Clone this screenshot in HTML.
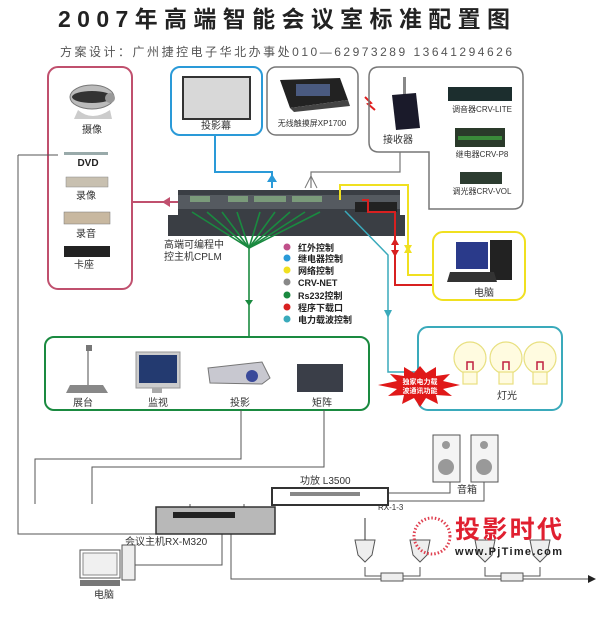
<!DOCTYPE html>
<html><head><meta charset="utf-8"><style>
html,body{margin:0;padding:0;background:#fff;}
svg{display:block}
text{font-family:"Liberation Sans","Noto Sans CJK SC",sans-serif;}
</style></head><body>
<svg width="600" height="622" viewBox="0 0 600 622" xmlns="http://www.w3.org/2000/svg">
<rect width="600" height="622" fill="#fff"/>
<!-- title -->
<text x="58" y="27" font-size="23" font-weight="bold" fill="#222" textLength="452">2007年高端智能会议室标准配置图</text>
<text x="60" y="56" font-size="12" fill="#555" textLength="452">方案设计：广州捷控电子华北办事处010—62973289  13641294626</text>

<!-- pink box -->
<rect x="48" y="67" width="84" height="222" rx="10" fill="none" stroke="#c0506e" stroke-width="2"/>
<ellipse cx="92" cy="97" rx="22" ry="12" fill="#bbb" stroke="#777"/>
<ellipse cx="92" cy="97" rx="20" ry="6" fill="#333"/>
<circle cx="110" cy="98" r="5" fill="#999"/>
<path d="M78 110 Q92 122 110 110 L112 119 L74 119Z" fill="#ccc"/>
<text x="92" y="133" font-size="10" text-anchor="middle" fill="#333">摄像</text>
<rect x="64" y="152" width="44" height="3" fill="#9aa"/>
<text x="88" y="166" font-size="10" font-weight="bold" text-anchor="middle" fill="#222">DVD</text>
<rect x="66" y="177" width="42" height="10" fill="#c8c0b0" stroke="#888" stroke-width=".5"/>
<text x="86" y="199" font-size="10" text-anchor="middle" fill="#333">录像</text>
<rect x="64" y="212" width="46" height="12" fill="#c8b8a0" stroke="#777" stroke-width=".5"/>
<text x="86" y="237" font-size="10" text-anchor="middle" fill="#333">录音</text>
<rect x="64" y="246" width="46" height="11" fill="#222"/>
<text x="84" y="268" font-size="10" text-anchor="middle" fill="#333">卡座</text>

<!-- projector screen box -->
<rect x="171" y="67" width="91" height="68" rx="9" fill="none" stroke="#2a9ad8" stroke-width="2"/>
<rect x="183" y="77" width="67" height="42" fill="#d8d8d8" stroke="#333" stroke-width="2"/>
<text x="216" y="129" font-size="10" text-anchor="middle" fill="#333">投影幕</text>
<!-- XP1700 -->
<rect x="267" y="67" width="91" height="68" rx="9" fill="none" stroke="#777" stroke-width="1.5"/>
<path d="M280 80 L340 78 L348 100 L290 108Z" fill="#222"/>
<rect x="296" y="84" width="34" height="12" fill="#4a5a80"/>
<path d="M290 108 L348 100 L350 106 L294 112Z" fill="#444"/>
<text x="312" y="126" font-size="8" text-anchor="middle" fill="#333">无线触摸屏XP1700</text>
<path d="M365 97 L371 103 L368 104 L375 110" stroke="#e02020" stroke-width="2" fill="none"/>
<!-- receiver box -->
<path d="M379 67 L513 67 Q523 67 523 77 L523 199 Q523 209 513 209 L429 209 L429 152 L379 152 Q369 152 369 142 L369 77 Q369 67 379 67Z" fill="none" stroke="#777" stroke-width="1.5"/>
<rect x="403" y="77" width="3" height="20" fill="#888"/>
<path d="M392 95 L416 93 L420 128 L396 130Z" fill="#1a1a2a"/>
<text x="398" y="143" font-size="10" text-anchor="middle" fill="#333">接收器</text>
<rect x="448" y="87" width="64" height="14" fill="#1c2e2e"/>
<text x="482" y="112" font-size="8" text-anchor="middle" fill="#333">调音器CRV-LITE</text>
<rect x="455" y="128" width="50" height="19" fill="#2a3a2a"/>
<rect x="458" y="136" width="44" height="4" fill="#3a8a3a"/>
<text x="482" y="157" font-size="8" text-anchor="middle" fill="#333">继电器CRV-P8</text>
<rect x="460" y="172" width="42" height="12" fill="#2c3c30"/>
<text x="482" y="194" font-size="8" text-anchor="middle" fill="#333">调光器CRV-VOL</text>
<!-- receiver to CPLM -->
<polyline points="400,152 400,172 311,172 311,188" fill="none" stroke="#777" stroke-width="1.2"/>
<polyline points="305,188 311,176 317,188" fill="none" stroke="#777"/>

<!-- CPLM -->
<path d="M178 190 L400 190 L400 215 L405 215 L405 236 L168 236 L168 215 L178 215Z" fill="#3a3e44"/>
<rect x="178" y="195" width="222" height="14" fill="#555a60"/>
<rect x="190" y="196" width="20" height="6" fill="#7a9a7a"/>
<rect x="228" y="196" width="20" height="6" fill="#7a9a7a"/>
<rect x="254" y="196" width="32" height="6" fill="#7a9a7a"/>
<rect x="292" y="196" width="30" height="6" fill="#7a9a7a"/>
<rect x="355" y="202" width="42" height="10" fill="#222"/>
<text x="164" y="248" font-size="10" fill="#333">高端可编程中</text>
<text x="164" y="260" font-size="10" fill="#333">控主机CPLM</text>

<!-- pink arrow -->
<line x1="132" y1="202" x2="178" y2="202" stroke="#c0506e" stroke-width="2"/>
<path d="M162 197 L170 202 L162 207Z" fill="#c0506e" transform="rotate(180 166 202)"/>
<!-- blue -->
<polyline points="215,135 215,172 272,172 272,188" fill="none" stroke="#2a9ad8" stroke-width="2"/>
<path d="M267 182 L272 174 L277 182Z" fill="#2a9ad8"/>
<!-- yellow -->
<polyline points="340,200 340,185 408,185 408,275 433,275" fill="none" stroke="#f0e020" stroke-width="2"/>
<path d="M404 245 L408 252 L412 245Z" fill="#f0e020"/>
<path d="M404 253 L408 246 L412 253Z" fill="#f0e020" transform="translate(0,0)"/>
<!-- red -->
<polyline points="362,200 368,200 368,212 395,212 395,285 433,285" fill="none" stroke="#d82020" stroke-width="2"/>
<path d="M391 245 L395 238 L399 245Z" fill="#d82020"/>
<path d="M391 250 L395 257 L399 250Z" fill="#d82020"/>
<!-- cyan -->
<polyline points="345,211 388,255 388,372 418,372" fill="none" stroke="#3aaabb" stroke-width="1.5"/>
<path d="M384 310 L388 318 L392 310Z" fill="#3aaabb"/>
<!-- computer box -->
<rect x="433" y="232" width="92" height="68" rx="10" fill="none" stroke="#f0e020" stroke-width="2"/>
<rect x="456" y="242" width="32" height="27" fill="#2a3a8a"/>
<rect x="490" y="240" width="22" height="40" fill="#222"/>
<path d="M450 272 L494 272 L497 282 L447 282Z" fill="#333"/>
<text x="484" y="296" font-size="10" text-anchor="middle" fill="#333">电脑</text>

<!-- green fan -->
<g stroke="#1a8a40" stroke-width="1.6" fill="none">
<line x1="192" y1="212" x2="249" y2="248"/><line x1="207" y1="212" x2="249" y2="248"/>
<line x1="222" y1="212" x2="249" y2="248"/><line x1="237" y1="212" x2="249" y2="248"/>
<line x1="260" y1="212" x2="249" y2="248"/><line x1="275" y1="212" x2="249" y2="248"/>
<line x1="290" y1="212" x2="249" y2="248"/><line x1="305" y1="212" x2="249" y2="248"/>
<line x1="320" y1="212" x2="249" y2="248"/>
<line x1="249" y1="248" x2="249" y2="337"/>
</g>
<path d="M245 300 L249 306 L253 300Z" fill="#1a8a40"/>
<!-- legend -->
<g font-size="9" font-weight="bold" fill="#222">
<circle cx="287" cy="247" r="3.5" fill="#c0508a"/><text x="298" y="251">红外控制</text>
<circle cx="287" cy="258" r="3.5" fill="#2a9ad8"/><text x="298" y="262">继电器控制</text>
<circle cx="287" cy="270" r="3.5" fill="#f0e020"/><text x="298" y="274">网络控制</text>
<circle cx="287" cy="282" r="3.5" fill="#888"/><text x="298" y="286">CRV-NET</text>
<circle cx="287" cy="295" r="3.5" fill="#1a8a40"/><text x="298" y="299">Rs232控制</text>
<circle cx="287" cy="307" r="3.5" fill="#d82020"/><text x="298" y="311">程序下载口</text>
<circle cx="287" cy="319" r="3.5" fill="#3aaabb"/><text x="298" y="323">电力载波控制</text>
</g>

<!-- green box -->
<rect x="45" y="337" width="324" height="73" rx="9" fill="none" stroke="#1a8a40" stroke-width="2"/>
<line x1="88" y1="347" x2="88" y2="385" stroke="#888" stroke-width="1.5"/>
<rect x="86" y="345" width="6" height="6" fill="#777"/>
<path d="M70 385 L103 385 L108 393 L66 393Z" fill="#888"/>
<text x="83" y="406" font-size="10" text-anchor="middle" fill="#333">展台</text>
<rect x="136" y="352" width="44" height="36" fill="#ccc" stroke="#999"/>
<rect x="139" y="355" width="38" height="28" fill="#233a70"/>
<rect x="152" y="388" width="10" height="5" fill="#aaa"/>
<text x="158" y="406" font-size="10" text-anchor="middle" fill="#333">监视</text>
<path d="M208 368 L262 362 L270 378 L262 384 L210 383Z" fill="#c8c8d0" stroke="#777"/>
<circle cx="252" cy="376" r="6" fill="#3a4a9a"/>
<text x="240" y="406" font-size="10" text-anchor="middle" fill="#333">投影</text>
<rect x="297" y="364" width="46" height="28" fill="#3a3e48"/>
<text x="322" y="406" font-size="10" text-anchor="middle" fill="#333">矩阵</text>

<!-- lights box -->
<rect x="418" y="327" width="144" height="83" rx="10" fill="none" stroke="#3aaabb" stroke-width="2"/>
<g fill="#fffbe0" stroke="#e8e080" stroke-width="1.2">
<circle cx="470" cy="358" r="16"/><rect x="463" y="372" width="14" height="12"/>
<circle cx="506" cy="358" r="16"/><rect x="499" y="372" width="14" height="12"/>
<circle cx="540" cy="358" r="16"/><rect x="533" y="372" width="14" height="12"/>
</g>
<g stroke="#c02040" stroke-width="1.5" fill="none">
<path d="M467 370 L467 362 L473 362 L473 370"/><path d="M503 370 L503 362 L509 362 L509 370"/><path d="M537 370 L537 362 L543 362 L543 370"/>
</g>
<text x="507" y="399" font-size="10" text-anchor="middle" fill="#333">灯光</text>
<!-- starburst -->
<polygon points="420,366 426,373 436,367 436,376 450,374 443,381 460,385 443,389 452,396 436,395 438,404 426,398 420,407 414,398 402,404 404,395 388,396 397,389 378,385 397,381 390,374 404,376 404,367 414,373" fill="#e01818"/>
<text x="420" y="384" font-size="7" font-weight="bold" text-anchor="middle" fill="#fff">独家电力载</text>
<text x="420" y="393" font-size="7" font-weight="bold" text-anchor="middle" fill="#fff">波通讯功能</text>

<!-- bottom wiring -->
<g stroke="#555" stroke-width="1" fill="none">
<polyline points="18,155 58,155"/>
<polyline points="18,155 18,534 156,534"/>
<polyline points="241,410 241,459 35,459 35,504"/>
<polyline points="324,410 324,467 92,467 92,504"/>
<polyline points="190,504 190,508"/><polyline points="244,504 244,508"/>
<polyline points="135,565 222,565 222,534"/>
<polyline points="231,534 231,579 590,579"/>
<polyline points="388,493 450,493 450,482"/>
<polyline points="388,501 484,501 484,482"/>
<polyline points="365,567 365,576 392,576"/><polyline points="420,567 420,576 392,576"/>
<polyline points="485,567 485,576 512,576"/><polyline points="540,567 540,576 512,576"/>
</g>
<path d="M588 575 L596 579 L588 583Z" fill="#222"/>
<!-- speakers -->
<rect x="433" y="435" width="27" height="47" fill="#f4f4f4" stroke="#555"/>
<circle cx="446" cy="445" r="4" fill="#999"/><circle cx="446" cy="467" r="8" fill="#999"/>
<rect x="471" y="435" width="27" height="47" fill="#f4f4f4" stroke="#555"/>
<circle cx="484" cy="445" r="4" fill="#999"/><circle cx="484" cy="467" r="8" fill="#999"/>
<text x="467" y="493" font-size="10" text-anchor="middle" fill="#333">音箱</text>
<!-- amplifier -->
<text x="300" y="484" font-size="10" fill="#333">功放 L3500</text>
<rect x="272" y="488" width="116" height="17" fill="#fff" stroke="#333" stroke-width="2"/>
<rect x="290" y="492" width="70" height="4" fill="#888"/>
<text x="378" y="510" font-size="8" fill="#333">RX-1-3</text>
<!-- RX-M320 -->
<rect x="156" y="507" width="119" height="27" fill="#b8b8b8" stroke="#333" stroke-width="1.5"/>
<rect x="173" y="512" width="62" height="6" fill="#222"/>
<text x="125" y="545" font-size="10" fill="#333">会议主机RX-M320</text>
<!-- bottom computer -->
<rect x="80" y="550" width="40" height="28" fill="#fff" stroke="#555"/>
<rect x="83" y="553" width="34" height="22" fill="#f0f0f0" stroke="#888"/>
<rect x="122" y="545" width="13" height="35" fill="#eee" stroke="#555"/>
<rect x="80" y="580" width="40" height="6" fill="#777"/>
<text x="104" y="598" font-size="10" text-anchor="middle" fill="#333">电脑</text>
<!-- microphones -->
<g fill="#eee" stroke="#555">
<path d="M355 540 L375 540 L372 555 L365 562 L358 555Z"/>
<path d="M410 540 L430 540 L427 555 L420 562 L413 555Z"/>
<path d="M475 540 L495 540 L492 555 L485 562 L478 555Z"/>
<path d="M530 540 L550 540 L547 555 L540 562 L533 555Z"/>
<rect x="381" y="573" width="22" height="8"/>
<rect x="501" y="573" width="22" height="8"/>
</g>
<line x1="365" y1="518" x2="365" y2="540" stroke="#333"/>
<!-- logo -->
<circle cx="432" cy="536" r="18" fill="none" stroke="#e04050" stroke-width="3" stroke-dasharray="1.5 2"/>
<text x="455" y="538" font-size="25" font-weight="bold" fill="#e02030" textLength="107">投影时代</text>
<text x="455" y="555" font-size="11" font-weight="bold" fill="#222" textLength="107">www.PjTime.com</text>
</svg>
</body></html>
